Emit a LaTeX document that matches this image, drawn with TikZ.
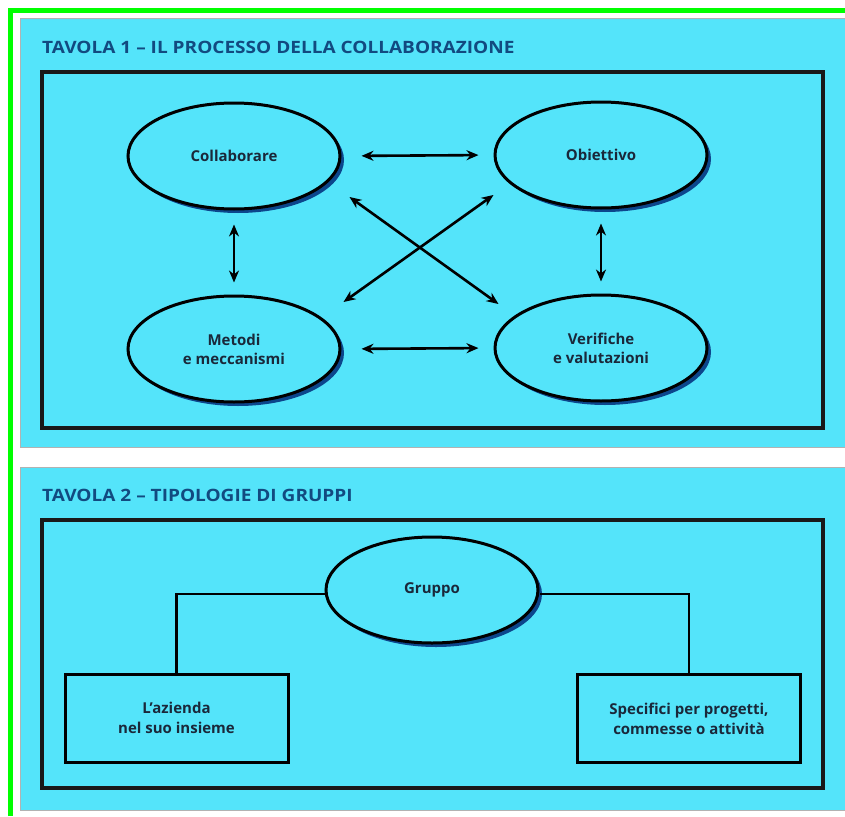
\documentclass[tikz,border=0pt]{standalone}
\usepackage{fontspec}
\setmainfont{Open Sans}
\usetikzlibrary{shapes.geometric,arrows.meta,shadows,calc}
\definecolor{panelcyan}{RGB}{84,228,250}
\definecolor{titleblue}{RGB}{18,74,128}
\definecolor{textdark}{RGB}{26,40,58}
\definecolor{shadowblue}{RGB}{12,70,140}
\definecolor{framegreen}{RGB}{0,255,0}
\tikzset{
  panel/.style={fill=panelcyan,draw=gray!60,line width=1pt},
  innerbox/.style={draw=black!90,line width=3.4pt},
  bubble/.style={ellipse,draw=black,line width=3pt,fill=panelcyan,
     minimum width=212pt,minimum height=106pt,inner sep=0pt,
     font=\bfseries\fontsize{15}{19}\selectfont,text=textdark,align=center,
     drop shadow={shadow xshift=4pt,shadow yshift=-4pt,fill=shadowblue,opacity=1}},
  leafbox/.style={rectangle,draw=black,line width=3pt,
     minimum width=223pt,minimum height=88pt,inner sep=0pt,
     font=\bfseries\fontsize{15}{20}\selectfont,text=textdark,align=center},
  tablelabel/.style={anchor=west,inner sep=0pt,text=titleblue,
     font=\bfseries\fontsize{17}{20}\selectfont},
  twoway/.style={{Stealth[length=12pt,width=10pt]}-{Stealth[length=12pt,width=10pt]},line width=2.6pt},
  link/.style={line width=2.6pt}
}
\begin{document}
\begin{tikzpicture}[x=1pt,y=-1pt]
\useasboundingbox (0,0) rectangle (845,816);
\fill[white] (0,0) rectangle (845,816);
% green frame
\draw[framegreen,line width=5pt] (10.5,816) -- (10.5,10.5) -- (845,10.5);
% panels
\draw[panel] (20,19) rectangle (850,447);
\draw[panel] (20,467) rectangle (850,810);
% titles
\node[tablelabel] (t1) at (42,47) {\scalebox{1.12}[1]{TAVOLA 1 -- IL PROCESSO DELLA COLLABORAZIONE}};
\node[tablelabel] (t2) at (42,495) {\scalebox{1.12}[1]{TAVOLA 2 -- TIPOLOGIE DI GRUPPI}};
% inner boxes
\draw[innerbox] (42,72) rectangle (823,428);
\draw[innerbox] (42,520) rectangle (823,788);
% table 1
\node[bubble] (c) at (234,156) {Collaborare};
\node[bubble] (o) at (601,155) {Obiettivo};
\node[bubble] (m) at (234,349) {Metodi\\e meccanismi};
\node[bubble] (v) at (601,348) {Verifiche\\e valutazioni};
\draw[twoway,shorten <=20pt,shorten >=15pt] (c.east) -- (o.west);
\draw[twoway,shorten <=20pt,shorten >=15pt] (m.east) -- (v.west);
\draw[twoway,shorten <=14pt,shorten >=12pt] (c.south) -- (m.north);
\draw[twoway,shorten <=14pt,shorten >=12pt] (o.south) -- (v.north);
\draw[twoway] ($(c.east)+(8,41)$) -- ($(v.west)+(5,-44)$);
\draw[twoway] ($(o.west)+(0,40)$) -- ($(m.east)+(2,-47)$);
% table 2
\node[bubble] (g) at (432,590) {Gruppo};
\node[leafbox] (a) at (176.5,718) {L'azienda\\nel suo insieme};
\node[leafbox] (s) at (689,718.5) {Specifici per progetti,\\commesse o attività};
\draw[link] ([yshift=-4pt]g.west) -| (a.north);
\draw[link] ([yshift=-4pt]g.east) -| (s.north);
\end{tikzpicture}
\end{document}
